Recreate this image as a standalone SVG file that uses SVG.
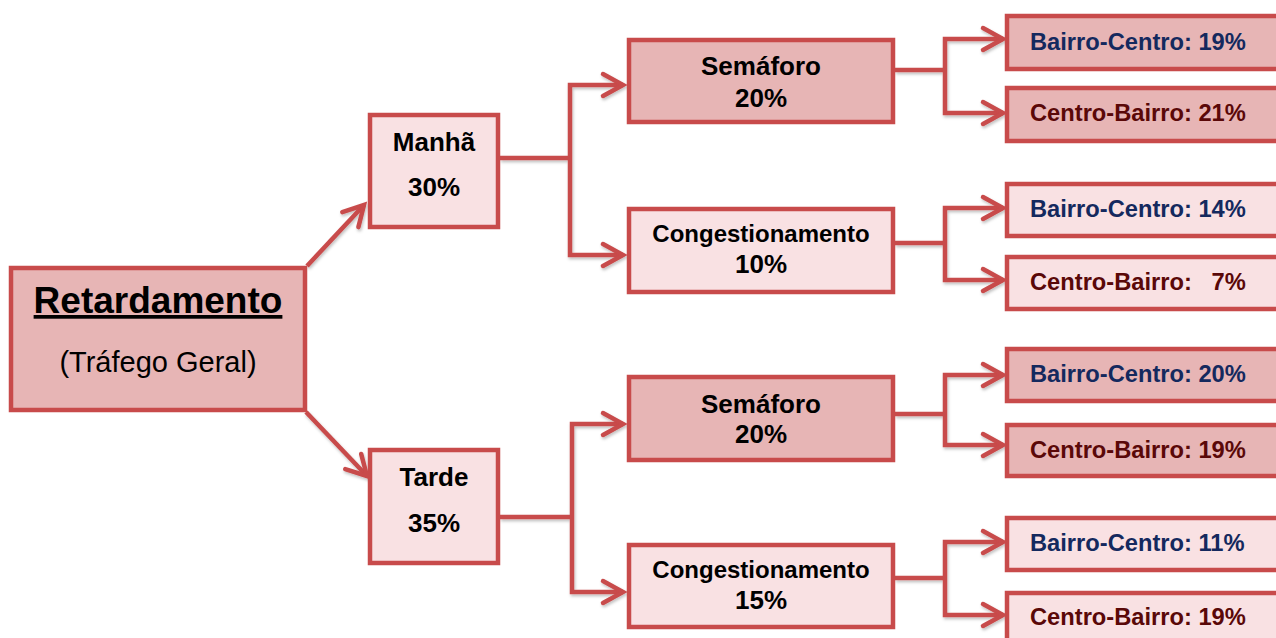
<svg xmlns="http://www.w3.org/2000/svg" width="1276" height="638" viewBox="0 0 1276 638">
<defs>
<style>
.box{stroke:#c84b4b;stroke-width:4.5}
.dark{fill:#e7b5b5}
.light{fill:#f9e1e3}
.t{font-family:"Liberation Sans",Arial,sans-serif;font-weight:bold;fill:#000;text-anchor:middle}
.mid{font-size:26px}
.cg{font-size:24px}
.leaf{font-family:"Liberation Sans",Arial,sans-serif;font-weight:bold;font-size:23.7px;white-space:pre}
.bc{fill:#14295e}
.cb{fill:#5a0808}
.conn path{fill:none;stroke:#c84b4b;stroke-width:4.5;stroke-linejoin:miter}
.arr{marker-end:url(#ah)}
</style>
<marker id="ah" markerUnits="userSpaceOnUse" markerWidth="30" markerHeight="30" viewBox="-25 -15 30 30" refX="0" refY="0" orient="auto">
<path d="M-20,-11 L0,0 L-20,11" fill="none" stroke="#c84b4b" stroke-width="4.5" stroke-linecap="round" stroke-linejoin="miter"/>
</marker>
<filter id="sh" x="-10%" y="-10%" width="120%" height="120%">
<feDropShadow dx="1" dy="2" stdDeviation="1.5" flood-color="#000" flood-opacity="0.25"/>
</filter>
</defs>
<rect width="1276" height="638" fill="#fff"/>

<g class="conn" filter="url(#sh)">
<path class="arr" d="M307,266 L364,205"/>
<path class="arr" d="M306,412 L367,476"/>
<path d="M500,158 H570"/>
<path class="arr" d="M570,158 V85 H623"/>
<path class="arr" d="M570,158 V255 H623"/>
<path d="M500,517 H572"/>
<path class="arr" d="M572,517 V424 H623"/>
<path class="arr" d="M572,517 V592 H623"/>
<path d="M895,70 H945"/>
<path class="arr" d="M945,70 V39 H1003"/>
<path class="arr" d="M945,70 V113 H1003"/>
<path d="M895,243 H945"/>
<path class="arr" d="M945,243 V208 H1003"/>
<path class="arr" d="M945,243 V280 H1003"/>
<path d="M895,414 H945"/>
<path class="arr" d="M945,414 V375 H1003"/>
<path class="arr" d="M945,414 V445 H1003"/>
<path d="M895,578 H945"/>
<path class="arr" d="M945,578 V542 H1003"/>
<path class="arr" d="M945,578 V615 H1003"/>
</g>

<g id="root">
<rect class="box dark" x="11" y="268" width="294" height="142"/>
<text class="t" x="158" y="313" font-size="37" text-decoration="underline">Retardamento</text>
<text x="158" y="372" font-family="Liberation Sans, Arial, sans-serif" font-size="29" text-anchor="middle" fill="#000">(Tráfego Geral)</text>
</g>

<g id="manha">
<rect class="box light" x="370" y="115" width="128" height="112"/>
<text class="t mid" x="434" y="151">Manhã</text>
<text class="t mid" x="434" y="196">30%</text>
</g>

<g id="tarde">
<rect class="box light" x="370" y="450" width="128" height="113"/>
<text class="t mid" x="434" y="486">Tarde</text>
<text class="t mid" x="434" y="532">35%</text>
</g>

<g id="semaforo1">
<rect class="box dark" x="629" y="40" width="264" height="82"/>
<text class="t mid" x="761" y="75">Semáforo</text>
<text class="t mid" x="761" y="107">20%</text>
</g>

<g id="congest1">
<rect class="box light" x="629" y="209" width="264" height="83"/>
<text class="t cg" x="761" y="242">Congestionamento</text>
<text class="t mid" x="761" y="273">10%</text>
</g>

<g id="semaforo2">
<rect class="box dark" x="629" y="377" width="264" height="83"/>
<text class="t mid" x="761" y="413">Semáforo</text>
<text class="t mid" x="761" y="443">20%</text>
</g>

<g id="congest2">
<rect class="box light" x="629" y="545" width="264" height="82"/>
<text class="t cg" x="761" y="578">Congestionamento</text>
<text class="t mid" x="761" y="609">15%</text>
</g>

<g id="leaf1">
<rect class="box dark" x="1007" y="16" width="300" height="53"/>
<text class="leaf bc" x="1030" y="50">Bairro-Centro: 19%</text>
</g>
<g id="leaf2">
<rect class="box dark" x="1007" y="88" width="300" height="53"/>
<text class="leaf cb" x="1030" y="121">Centro-Bairro: 21%</text>
</g>
<g id="leaf3">
<rect class="box light" x="1007" y="184" width="300" height="52"/>
<text class="leaf bc" x="1030" y="217">Bairro-Centro: 14%</text>
</g>
<g id="leaf4">
<rect class="box light" x="1007" y="257" width="300" height="52"/>
<text class="leaf cb" x="1030" y="290" xml:space="preserve">Centro-Bairro:   7%</text>
</g>
<g id="leaf5">
<rect class="box dark" x="1007" y="349" width="300" height="52"/>
<text class="leaf bc" x="1030" y="382">Bairro-Centro: 20%</text>
</g>
<g id="leaf6">
<rect class="box dark" x="1007" y="425" width="300" height="51"/>
<text class="leaf cb" x="1030" y="458">Centro-Bairro: 19%</text>
</g>
<g id="leaf7">
<rect class="box light" x="1007" y="518" width="300" height="52"/>
<text class="leaf bc" x="1030" y="551">Bairro-Centro: 11%</text>
</g>
<g id="leaf8">
<rect class="box light" x="1007" y="593" width="300" height="60"/>
<text class="leaf cb" x="1030" y="625">Centro-Bairro: 19%</text>
</g>
</svg>
